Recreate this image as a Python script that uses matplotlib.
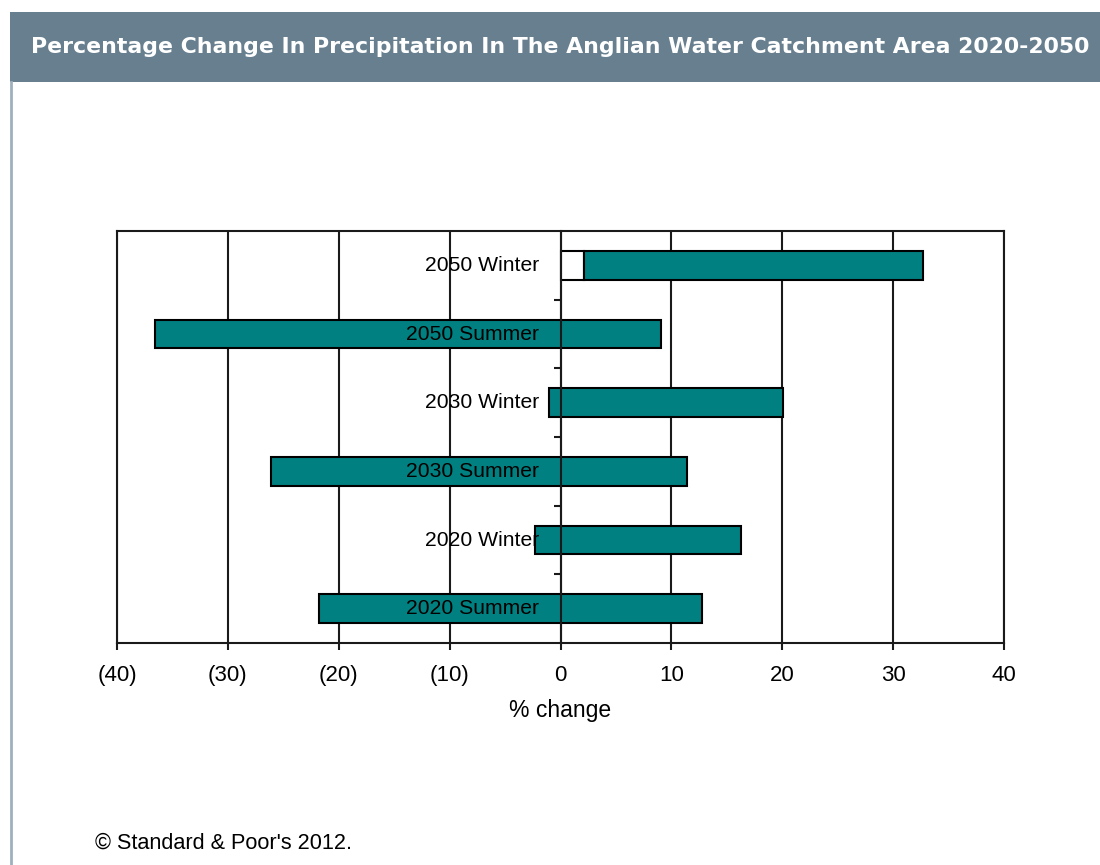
import matplotlib
matplotlib.use("Agg")
import matplotlib.pyplot as plt
from matplotlib.patches import Rectangle
from matplotlib.ticker import FuncFormatter
import matplotlib.transforms as mtransforms

# ---- data (bottom to top) ----
categories = ['2020 Summer', '2020 Winter', '2030 Summer', '2030 Winter', '2050 Summer', '2050 Winter']
low_values = [-21.8, -2.3, -26.1, -1.0, -36.6, 2.1]
high_values = [12.8, 16.3, 11.4, 20.1, 9.1, 32.7]
x_ticks = [-40, -30, -20, -10, 0, 10, 20, 30, 40]

title = 'Percentage Change In Precipitation In The Anglian Water Catchment Area 2020-2050'
xlabel = '% change'
source = '\u00a9 Standard & Poor\'s 2012.'

TEAL = '#008080'
BANNER = '#677f8f'
FONT = ['Liberation Sans', 'DejaVu Sans']

plt.rcParams['font.family'] = FONT

W, H = 1100, 865
fig = plt.figure(figsize=(W / 100, H / 100), dpi=100)
fig.patch.set_facecolor('white')

# banner
fig.patches.append(Rectangle((10 / W, 1 - 82 / H), 1 - 10 / W, 70 / H,
                             transform=fig.transFigure, facecolor=BANNER,
                             edgecolor='none', zorder=0))
# left border line
fig.lines.append(plt.Line2D([11 / W, 11 / W], [0, 1 - 82 / H], transform=fig.transFigure,
                            color='#9fb0bd', lw=2))
fig.text(31 / W, 1 - 47 / H, title, color='white', fontsize=15.8, fontweight='bold',
         family=['DejaVu Sans'], ha='left', va='center')

ax = fig.add_axes([117 / W, 1 - 643 / H, 887 / W, 412 / H])
ax.set_xlim(-40, 40)
ax.set_ylim(-0.5, len(categories) - 0.5)

ypos = list(range(len(categories)))
bar_h = 0.42
for y, lo, hi in zip(ypos, low_values, high_values):
    if lo > 0:
        ax.barh(y, lo, left=0, height=bar_h, color='white', edgecolor='black', linewidth=1.5, zorder=2)
        ax.barh(y, hi - lo, left=lo, height=bar_h, color=TEAL, edgecolor='black', linewidth=1.5, zorder=2)
    else:
        ax.barh(y, hi - lo, left=lo, height=bar_h, color=TEAL, edgecolor='black', linewidth=1.5, zorder=2)

# gridlines
ax.set_xticks(x_ticks)
ax.xaxis.set_major_formatter(FuncFormatter(lambda v, p: f'({abs(int(v))})' if v < 0 else f'{int(v)}'))
ax.grid(axis='x', color='#1a1a1a', linewidth=1.5, zorder=0.5)
ax.set_axisbelow(True)

# spines
for s in ['top', 'right', 'bottom']:
    ax.spines[s].set_color('#1a1a1a')
    ax.spines[s].set_linewidth(1.5)
ax.spines['left'].set_position(('data', 0))
ax.spines['left'].set_color('#1a1a1a')
ax.spines['left'].set_linewidth(1.5)
ax.spines['left'].set_zorder(3)
ax.plot([-40, -40], [-0.5, len(categories) - 0.5], color='#1a1a1a', lw=1.5, clip_on=False, zorder=3)

# y ticks at category boundaries on the zero axis
ax.set_yticks([i + 0.5 for i in range(len(categories) - 1)])
ax.set_yticklabels([])
ax.tick_params(axis='y', direction='out', length=5, width=1.5, color='#1a1a1a')
ax.tick_params(axis='x', direction='out', length=5, width=1.5, color='#1a1a1a',
               labelsize=16, pad=11)

offset = mtransforms.offset_copy(ax.transData, fig=fig, x=-21, y=0, units='dots')
for y, cat in zip(ypos, categories):
    ax.text(0, y, cat, transform=offset, ha='right', va='center', fontsize=15.2, zorder=4)

ax.set_xlabel(xlabel, fontsize=16.5, labelpad=9)

fig.text(95 / W, 1 - 843 / H, source, fontsize=15.6, ha='left', va='center')

fig.savefig('out.png', dpi=100, facecolor='white')
